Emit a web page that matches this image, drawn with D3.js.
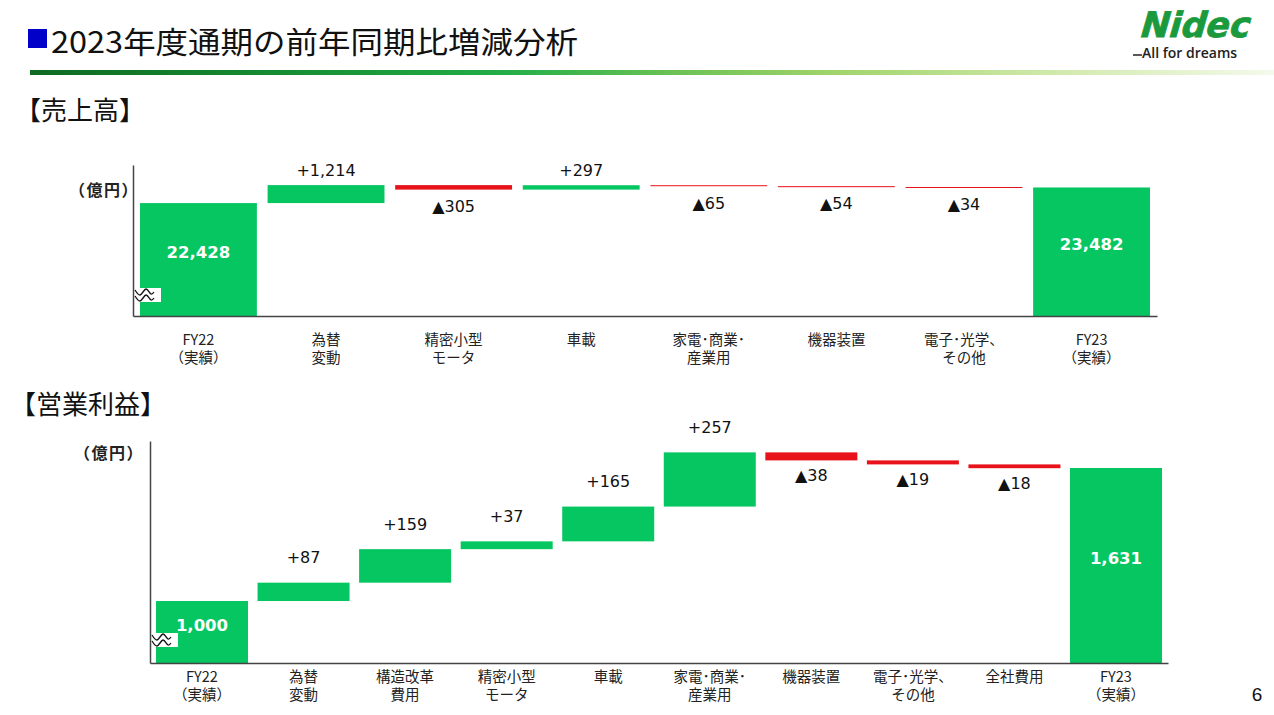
<!DOCTYPE html>
<html><head><meta charset="utf-8">
<script src="https://cdn.jsdelivr.net/npm/d3@7"></script>
<style>body{margin:0;background:#fff}svg{display:block}</style>
</head><body><svg id="c" width="1274" height="715"></svg>
<script>
// ---- data ----
const salesCategories = ["FY22\n（実績）", "為替\n変動", "精密小型\nモータ", "車載", "家電･商業･\n産業用", "機器装置", "電子･光学、\nその他", "FY23\n（実績）"];
const salesValues = [22428, 1214, -305, 297, -65, -54, -34, 23482];
const salesKinds = ["total", "delta", "delta", "delta", "delta", "delta", "delta", "total"];

const opCategories = ["FY22\n（実績）", "為替\n変動", "構造改革\n費用", "精密小型\nモータ", "車載", "家電･商業･\n産業用", "機器装置", "電子･光学、\nその他", "全社費用", "FY23\n（実績）"];
const opValues = [1000, 87, 159, 37, 165, 257, -38, -19, -18, 1631];
const opKinds = ["total", "delta", "delta", "delta", "delta", "delta", "delta", "delta", "delta", "total"];

const titleText = "2023年度通期の前年同期比増減分析";
const salesHeading = "【売上高】";
const opHeading = "【営業利益】";
const unitText = "（億円）";

// ---- styles ----
const GREEN = "#06c661", RED = "#e8121a";
const JP = "'Noto Sans CJK JP','Noto Sans',sans-serif";
const NUM = "'DejaVu Sans',Verdana,sans-serif";
const svg = d3.select("#c");

// ---- header ----
const defs = svg.append("defs");
const grad = defs.append("linearGradient").attr("id", "hg").attr("x1", "0%").attr("x2", "100%");
[["0", "#0f6a22"], ["0.2", "#168c31"], ["0.38", "#22ad47"], ["0.52", "#6cc255"], ["0.65", "#a2d46c"], ["0.82", "#d0e9aa"], ["1", "#f4faec"]]
  .forEach(([o, c]) => grad.append("stop").attr("offset", o).attr("stop-color", c));

svg.append("rect").attr("x", 28).attr("y", 29).attr("width", 19).attr("height", 19).attr("fill", "#0000c8");
svg.append("text").attr("x", 51).attr("y", 40).attr("dominant-baseline", "central")
  .attr("font-family", JP).attr("font-size", 30).attr("fill", "#111")
  .attr("textLength", 527).attr("lengthAdjust", "spacingAndGlyphs").text(titleText);
svg.append("rect").attr("x", 30).attr("y", 70).attr("width", 1244).attr("height", 5).attr("fill", "url(#hg)");

// logo
svg.append("text").attr("transform", "translate(1138,37) skewX(-16)").attr("font-family", NUM).attr("font-weight", "bold")
  .attr("font-size", 35).attr("fill", "#1a9a3c").attr("stroke", "#1a9a3c").attr("stroke-width", 0.8)
  .attr("textLength", 110).attr("lengthAdjust", "spacingAndGlyphs").text("Nidec");
svg.append("line").attr("x1", 1133).attr("x2", 1142).attr("y1", 55).attr("y2", 55).attr("stroke", "#222").attr("stroke-width", 1.5);
svg.append("text").attr("x", 1142).attr("y", 52).attr("dominant-baseline", "central").attr("font-family", "'Open Sans',sans-serif")
  .attr("font-weight", 600).attr("font-size", 14).attr("fill", "#222").text("All for dreams");

// section headings
svg.append("text").attr("x", 15).attr("y", 108).attr("dominant-baseline", "central")
  .attr("font-family", JP).attr("font-size", 26).attr("fill", "#111").text(salesHeading);
svg.append("text").attr("x", 10).attr("y", 402).attr("dominant-baseline", "central")
  .attr("font-family", JP).attr("font-size", 26).attr("fill", "#111").text(opHeading);

// page number
svg.append("text").attr("x", 1257).attr("y", 694).attr("text-anchor", "middle").attr("dominant-baseline", "central")
  .attr("font-family", "'Liberation Sans Narrow','Liberation Sans',sans-serif").attr("font-size", 19).attr("fill", "#111").text("6");

// ---- waterfall ----
function fmt(v) { return d3.format(",")(Math.abs(v)); }

function waterfall(cfg) {
  const x = d3.scaleBand().domain(cfg.cats).range([cfg.x0, cfg.x1]).paddingInner(cfg.pi).paddingOuter(cfg.po);
  const y = d3.scaleLinear().domain(cfg.domain).range([cfg.yBase, cfg.yTop]);
  let cum = 0;
  const rows = cfg.cats.map((c, i) => {
    const v = cfg.values[i], k = cfg.kinds[i];
    let a, b;
    if (k === "total") { a = cfg.domain[0]; b = v; cum = v; }
    else { a = cum; b = cum + v; cum = b; }
    return { c, v, k, lo: Math.min(a, b), hi: Math.max(a, b) };
  });
  const g = svg.append("g");

  g.selectAll("rect.bar").data(rows).join("rect").attr("class", "bar")
    .attr("x", d => x(d.c)).attr("width", x.bandwidth())
    .attr("y", d => y(d.hi)).attr("height", d => Math.max(1, y(d.lo) - y(d.hi)))
    .attr("fill", d => d.k === "delta" && d.v < 0 ? RED : GREEN);

  // axes
  const ax = g.append("g").attr("transform", `translate(0,${cfg.yBase})`)
    .call(d3.axisBottom(x).tickSize(0).tickSizeOuter(0).tickPadding(0));
  ax.select(".domain").attr("stroke", "#444").attr("stroke-width", 1.5);
  ax.selectAll(".tick text").each(function (d) {
    const t = d3.select(this).text(null).attr("y", 0).attr("dy", null)
      .attr("font-family", JP).attr("font-size", 14.5).attr("fill", "#222").attr("dominant-baseline", "central");
    d.split("\n").forEach((ln, j) => t.append("tspan").attr("x", 0).attr("y", cfg.catY + j * 18).text(ln));
  });
  const ay = g.append("g").attr("transform", `translate(${cfg.x0},0)`)
    .call(d3.axisLeft(y).tickValues([]).tickSizeOuter(0));
  ay.select(".domain").attr("stroke", "#444").attr("stroke-width", 1.5);

  // unit
  g.append("text").attr("x", cfg.unitX).attr("y", cfg.unitY).attr("text-anchor", "end").attr("dominant-baseline", "central")
    .attr("font-family", JP).attr("font-weight", 700).attr("font-size", 16).attr("letter-spacing", 1.5)
    .attr("fill", "#222").text(unitText);

  // value labels
  g.selectAll("text.val").data(rows).join("text").attr("class", "val")
    .attr("x", d => x(d.c) + x.bandwidth() / 2)
    .attr("y", d => d.k === "total" ? (y(d.hi) + y(d.lo)) / 2 - 7
      : d.v >= 0 ? y(d.hi) - cfg.posOff : y(d.lo) + cfg.negOff)
    .attr("text-anchor", "middle").attr("dominant-baseline", "central")
    .attr("font-family", NUM)
    .attr("font-size", d => d.k === "total" ? 16.5 : 16)
    .attr("font-weight", d => d.k === "total" ? "bold" : "normal")
    .attr("fill", d => d.k === "total" ? "#fff" : "#111")
    .text(d => d.k === "total" ? fmt(d.v) : (d.v >= 0 ? "+" : "▲") + fmt(d.v));

  // axis break symbol
  const bx = cfg.x0 + 3, by = cfg.yBase - cfg.breakUp;
  g.append("rect").attr("x", bx).attr("y", by).attr("width", 25).attr("height", 14).attr("fill", "#fff");
  const wave = d3.line().curve(d3.curveCardinal);
  [4, 10].forEach(off => {
    const yy = by + off;
    g.append("path").attr("d", wave([[bx - 1, yy - 2], [bx + 4, yy + 3], [bx + 10, yy - 3], [bx + 15, yy + 2], [bx + 18, yy]]))
      .attr("fill", "none").attr("stroke", "#111").attr("stroke-width", 1.3);
  });
}

waterfall({
  cats: salesCategories, values: salesValues, kinds: salesKinds,
  x0: 133, x1: 1157, pi: 0.084, po: 0.055,
  yBase: 316, yTop: 165, domain: [14800, 25000],
  posOff: 15, negOff: 17, catY: 22, unitX: 139, unitY: 189, breakUp: 28
});

waterfall({
  cats: opCategories, values: opValues, kinds: opKinds,
  x0: 150, x1: 1168, pi: 0.094, po: 0.059,
  yBase: 663, yTop: 441, domain: [706, 1759],
  posOff: 25, negOff: 15, catY: 12, unitX: 144, unitY: 452, breakUp: 30
});
</script>
</body></html>
